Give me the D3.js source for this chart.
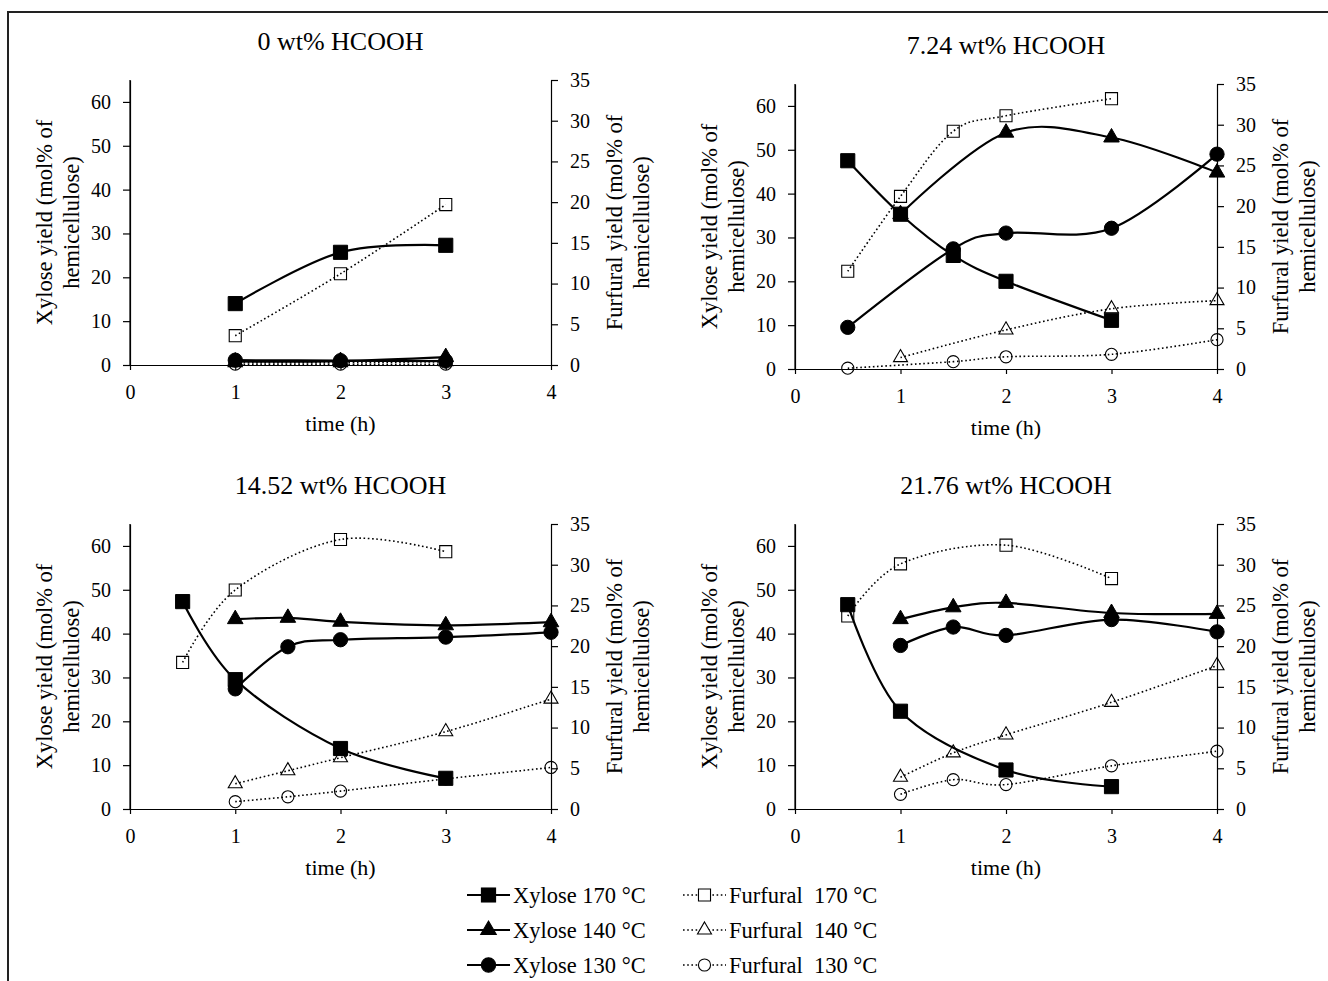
<!DOCTYPE html>
<html>
<head>
<meta charset="utf-8">
<script src="https://cdn.jsdelivr.net/npm/d3@7"></script>
<style>
body { margin: 0; background: #fff; }
text { font-family: "Liberation Serif", "Times New Roman", serif; fill: #000; }
</style>
</head>
<body>
<svg id="chart" width="1328" height="981"></svg>
<script>
// values, one entry per panel, [time (h), yield]
var panelTitles = ["0 wt% HCOOH", "7.24 wt% HCOOH", "14.52 wt% HCOOH", "21.76 wt% HCOOH"]
var timeTicks = [0, 1, 2, 3, 4]
var xyloseTicks = [0, 10, 20, 30, 40, 50, 60]
var furfuralTicks = [0, 5, 10, 15, 20, 25, 30, 35]

var xylose170 = [
    [[1, 14.0], [2, 25.7], [3, 27.3]],
    [[0.5, 47.5], [1, 35.3], [1.5, 25.9], [2, 20.0], [3, 11.1]],
    [[0.5, 47.3], [1, 29.5], [2, 13.8], [3, 7.0]],
    [[0.5, 46.6], [1, 22.3], [2, 8.9], [3, 5.1]]
]
var xylose140 = [
    [[1, 0.8], [2, 0.9], [3, 1.8]],
    [[1, 35.3], [2, 53.9], [3, 52.8], [4, 44.8]],
    [[1, 43.3], [1.5, 43.6], [2, 42.7], [3, 41.9], [4, 42.6]],
    [[1, 43.3], [1.5, 46.0], [2, 47.0], [3, 44.7], [4, 44.5]]
]
var xylose130 = [
    [[1, 1.1], [2, 1.0], [3, 0.9]],
    [[0.5, 9.5], [1.5, 27.4], [2, 31.0], [3, 32.1], [4, 49.0]],
    [[1, 27.4], [1.5, 37.0], [2, 38.6], [3, 39.2], [4, 40.3]],
    [[1, 37.3], [1.5, 41.5], [2, 39.6], [3, 43.2], [4, 40.4]]
]
var furfural170 = [
    [[1, 3.6], [2, 11.2], [3, 19.7]],
    [[0.5, 12.0], [1, 21.2], [1.5, 29.2], [2, 31.1], [3, 33.2]],
    [[0.5, 18.0], [1, 26.9], [2, 33.1], [3, 31.6]],
    [[0.5, 23.7], [1, 30.1], [2, 32.4], [3, 28.3]]
]
var furfural140 = [
    [[1, 0.3], [2, 0.3], [3, 0.4]],
    [[1, 1.4], [2, 4.8], [3, 7.4], [4, 8.4]],
    [[1, 3.1], [1.5, 4.7], [2, 6.3], [3, 9.5], [4, 13.5]],
    [[1, 3.9], [1.5, 6.9], [2, 9.1], [3, 13.1], [4, 17.6]]
]
var furfural130 = [
    [[1, 0.1], [2, 0.1], [3, 0.1]],
    [[0.5, 0.1], [1.5, 0.9], [2, 1.5], [3, 1.8], [4, 3.6]],
    [[1, 0.9], [1.5, 1.5], [2, 2.2], [3, 3.7], [4, 5.1]],
    [[1, 1.8], [1.5, 3.6], [2, 3.0], [3, 5.3], [4, 7.1]]
]

// drawing order: xylose first (130 under 170), furfural on top
var series = [
    {name: "Xylose 130 °C", data: xylose130, axis: "left", symbol: d3.symbolCircle, size: 160, filled: true},
    {name: "Xylose 140 °C", data: xylose140, axis: "left", symbol: d3.symbolTriangle, size: 105, filled: true},
    {name: "Xylose 170 °C", data: xylose170, axis: "left", symbol: d3.symbolSquare, size: 200, filled: true},
    {name: "Furfural  130 °C", data: furfural130, axis: "right", symbol: d3.symbolCircle, size: 115, filled: false},
    {name: "Furfural  140 °C", data: furfural140, axis: "right", symbol: d3.symbolTriangle, size: 85, filled: false},
    {name: "Furfural  170 °C", data: furfural170, axis: "right", symbol: d3.symbolSquare, size: 145, filled: false}
]

var panels = [
    {left: 130, right: 551, top: 80, bottom: 365},
    {left: 795, right: 1217, top: 84, bottom: 369},
    {left: 130, right: 551, top: 524, bottom: 809},
    {left: 795, right: 1217, top: 524, bottom: 809}
]

var svg = d3.select("#chart")

// outer frame (cropped on right and bottom)
svg.append("path")
    .attr("d", "M8,981 L8,12 L1328,12")
    .attr("fill", "none")
    .attr("stroke", "#222")
    .attr("stroke-width", 2)

var smooth = d3.curveCardinal.tension(0)

panels.forEach(function(p, i) {
    var x = d3.scaleLinear().domain([0, 4]).range([p.left, p.right])
    var yL = d3.scaleLinear().domain([0, 65]).range([p.bottom, p.top])
    var yR = d3.scaleLinear().domain([0, 35]).range([p.bottom, p.top])
    var g = svg.append("g")

    // axes
    var xaxis = g.append("g")
        .attr("transform", "translate(0," + p.bottom + ")")
        .call(d3.axisBottom(x).tickValues(timeTicks).tickFormat(d3.format("d"))
            .tickSize(5).tickSizeOuter(0).tickPadding(15))
    var laxis = g.append("g")
        .attr("transform", "translate(" + p.left + ",0)")
        .call(d3.axisLeft(yL).tickValues(xyloseTicks).tickSize(7).tickSizeOuter(0).tickPadding(12))
    var raxis = g.append("g")
        .attr("transform", "translate(" + p.right + ",0)")
        .call(d3.axisRight(yR).tickValues(furfuralTicks).tickSize(7).tickSizeOuter(0).tickPadding(12))
    ;[xaxis, laxis, raxis].forEach(function(a) {
        a.selectAll("text").attr("font-size", 20).attr("font-family", "Liberation Serif")
        a.selectAll("line, path").attr("stroke", "#000").attr("stroke-width", 1.2)
    })
    // left axis line spans to the top of the plot
    g.append("line")
        .attr("x1", p.left).attr("x2", p.left)
        .attr("y1", p.top).attr("y2", p.bottom)
        .attr("stroke", "#000").attr("stroke-width", 1.2)

    // titles
    g.append("text")
        .attr("x", (p.left + p.right) / 2)
        .attr("y", p.top - 39)
        .attr("dy", "0.35em")
        .attr("text-anchor", "middle")
        .attr("font-size", 26)
        .text(panelTitles[i])
    g.append("text")
        .attr("x", (p.left + p.right) / 2)
        .attr("y", p.bottom + 58)
        .attr("dy", "0.35em")
        .attr("text-anchor", "middle")
        .attr("font-size", 22)
        .text("time (h)")

    var cy = (p.top + p.bottom) / 2
    var ytitles = [
        {dx: -86, t: "Xylose yield (mol% of"},
        {dx: -59, t: "hemicellulose)"},
        {dx: 63, t: "Furfural yield (mol% of", right: true},
        {dx: 90, t: "hemicellulose)", right: true}
    ]
    ytitles.forEach(function(d) {
        var cx = (d.right ? p.right : p.left) + d.dx
        g.append("text")
            .attr("transform", "translate(" + cx + "," + cy + ") rotate(-90)")
            .attr("dy", "0.35em")
            .attr("text-anchor", "middle")
            .attr("font-size", 22.5)
            .text(d.t)
    })

    // lines then markers
    series.forEach(function(s) {
        var yS = s.axis == "left" ? yL : yR
        var pts = s.data[i]
        var line = d3.line()
            .x(d => x(d[0]))
            .y(d => yS(d[1]))
            .curve(smooth)
        g.append("path")
            .attr("d", line(pts))
            .attr("fill", "none")
            .attr("stroke", "#000")
            .attr("stroke-width", s.filled ? 2.2 : 1.6)
            .attr("stroke-dasharray", s.filled ? null : "1.6,2.6")
        g.selectAll(null)
            .data(pts)
            .enter()
            .append("path")
            .attr("transform", d => "translate(" + x(d[0]) + "," + yS(d[1]) + ")")
            .attr("d", d3.symbol().type(s.symbol).size(s.size))
            .attr("fill", s.filled ? "#000" : "none")
            .attr("stroke", "#000")
            .attr("stroke-width", s.filled ? 1 : 1.1)
    })
})

// legend
var legendOrder = [2, 1, 0, 5, 4, 3]
legendOrder.forEach(function(si, k) {
    var s = series[si]
    var col = k < 3 ? 0 : 1
    var row = k % 3
    var x0 = col == 0 ? 467 : 683
    var y0 = 895 + row * 35
    var lg = svg.append("g")
    lg.append("line")
        .attr("x1", x0).attr("x2", x0 + 43)
        .attr("y1", y0).attr("y2", y0)
        .attr("stroke", "#000")
        .attr("stroke-width", s.filled ? 2.2 : 1.6)
        .attr("stroke-dasharray", s.filled ? null : "1.6,2.6")
    lg.append("path")
        .attr("transform", "translate(" + (x0 + 21.5) + "," + y0 + ")")
        .attr("d", d3.symbol().type(s.symbol).size(s.size))
        .attr("fill", s.filled ? "#000" : "#fff")
        .attr("stroke", "#000")
        .attr("stroke-width", 1.1)
    lg.append("text")
        .attr("x", x0 + 46)
        .attr("y", y0)
        .attr("dy", "0.35em")
        .attr("font-size", 22.5)
        .style("white-space", "pre")
        .text(s.name)
})
</script>
</body>
</html>
